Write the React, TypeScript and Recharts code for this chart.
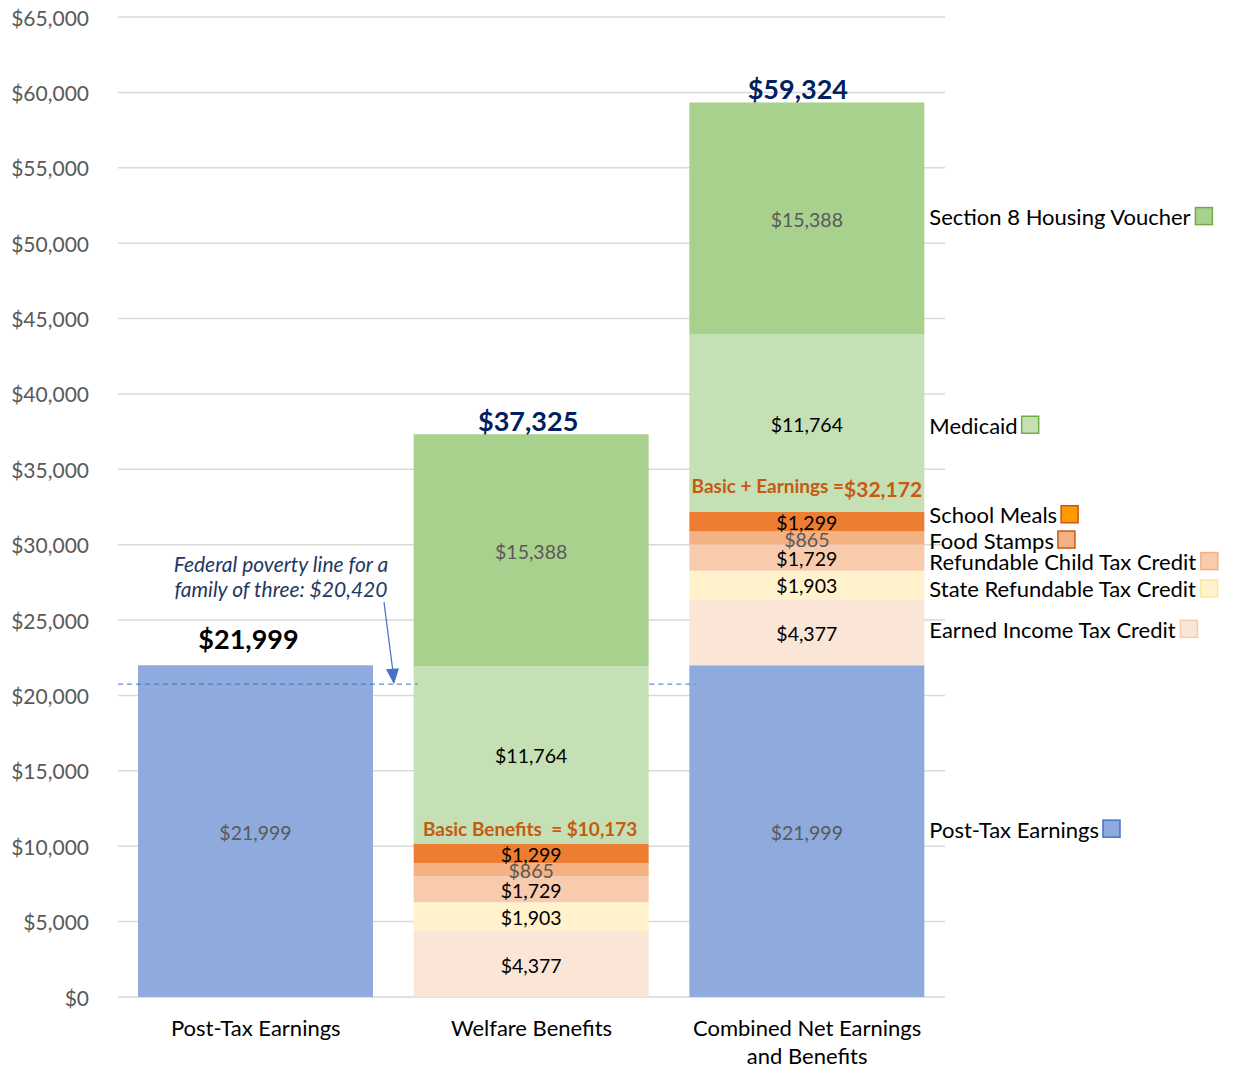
import React from 'react';
import { BarChart, Bar, XAxis, YAxis, CartesianGrid, LabelList, ReferenceLine } from 'recharts';

// categories on the x axis
const categories = ['Post-Tax Earnings', 'Welfare Benefits', 'Combined Net Earnings and Benefits'];

// stacked series values, bottom to top
const postTaxEarnings = [21999, 0, 21999];
const earnedIncomeTaxCredit = [0, 4377, 4377];
const stateRefundableTaxCredit = [0, 1903, 1903];
const refundableChildTaxCredit = [0, 1729, 1729];
const foodStamps = [0, 865, 865];
const schoolMeals = [0, 1299, 1299];
const medicaid = [0, 11764, 11764];
const section8Housing = [0, 15388, 15388];

const yTicks = [0, 5000, 10000, 15000, 20000, 25000, 30000, 35000, 40000, 45000, 50000, 55000, 60000, 65000];
const povertyLine = 20420;

const FONT = 'Lato, Carlito, sans-serif';
const LEGEND_SIZE = 22;
const PLOT_LEFT = 118;
const PLOT_RIGHT = 945;

const series = [
  { key: 'postTax', name: 'Post-Tax Earnings', values: postTaxEarnings, color: '#8FAADC', labelColor: '#595959', legendFill: '#8FAADC', legendStroke: '#4472C4', legendDy: -2 },
  { key: 'eitc', name: 'Earned Income Tax Credit', values: earnedIncomeTaxCredit, color: '#FBE5D6', labelColor: '#000', legendFill: '#FBE5D6', legendStroke: '#F8CBAD', legendDy: -3 },
  { key: 'state', name: 'State Refundable Tax Credit', values: stateRefundableTaxCredit, color: '#FFF2CC', labelColor: '#000', legendFill: '#FFF2CC', legendStroke: '#FFE699', legendDy: 4 },
  { key: 'child', name: 'Refundable Child Tax Credit', values: refundableChildTaxCredit, color: '#F8CBAD', labelColor: '#000', legendFill: '#F8CBAD', legendStroke: '#F4B183', legendDy: 4 },
  { key: 'food', name: 'Food Stamps', values: foodStamps, color: '#F4B183', labelColor: '#595959', legendFill: '#F4B183', legendStroke: '#C55A11', legendDy: 2 },
  { key: 'school', name: 'School Meals', values: schoolMeals, color: '#ED7D31', labelColor: '#000', legendFill: '#FF9900', legendStroke: '#C55A11', legendDy: -7 },
  { key: 'medicaid', name: 'Medicaid', values: medicaid, color: '#C5E0B4', labelColor: '#000', legendFill: '#C5E0B4', legendStroke: '#70AD47', legendDy: 2 },
  { key: 'section8', name: 'Section 8 Housing Voucher', values: section8Housing, color: '#A9D18E', labelColor: '#595959', legendFill: '#A9D18E', legendStroke: '#70AD47', legendDy: -2 },
];

const data = categories.map((category, i) => {
  const row: any = { category };
  series.forEach((s) => { row[s.key] = s.values[i]; });
  return row;
});

const totals = categories.map((_, i) => series.reduce((acc, s) => acc + s.values[i], 0));
const basicBenefits = categories.map((_, i) =>
  earnedIncomeTaxCredit[i] + stateRefundableTaxCredit[i] + refundableChildTaxCredit[i] + foodStamps[i] + schoolMeals[i]);

const fmt = (v: number) => '$' + v.toLocaleString('en-US');

let ctx: CanvasRenderingContext2D | null = null;
const measure = (t: string, font: string) => {
  if (!ctx) ctx = document.createElement('canvas').getContext('2d');
  if (!ctx) return t.length * 10;
  ctx.font = font;
  return ctx.measureText(t).width;
};

const box = (props: any) => {
  const vb = props.viewBox && props.viewBox.width !== undefined ? props.viewBox : props;
  return { x: Number(vb.x), y: Number(vb.y), width: Number(vb.width), height: Number(vb.height) };
};

// zero-height segments are skipped by LabelList, so find the category from the bar itself
const catIndex = (props: any) => {
  const cat = props.payload && props.payload.category;
  if (cat) return categories.indexOf(cat);
  const { x, width } = box(props);
  const band = (PLOT_RIGHT - PLOT_LEFT) / categories.length;
  return Math.floor((x + width / 2 - PLOT_LEFT) / band);
};

// value inside each segment
const segmentLabel = (color: string) => (props: any) => {
  const { value } = props;
  if (!value) return null;
  const { x, y, width, height } = box(props);
  return (
    <text x={x + width / 2} y={y + height / 2 + 1} textAnchor="middle" dominantBaseline="central"
      fontSize={19.5} fontFamily={FONT} fill={color}>
      {fmt(Number(value))}
    </text>
  );
};

// legend text + swatch to the right of the combined bar
const legendLabel = (s: typeof series[number]) => (props: any) => {
  if (catIndex(props) !== 2) return null;
  const { x, y, width, height } = box(props);
  const tx = x + width + 5;
  const cy = y + height / 2 + s.legendDy;
  const w = measure(s.name, `${LEGEND_SIZE}px ${FONT}`);
  return (
    <g>
      <text x={tx} y={cy} dominantBaseline="central" fontSize={LEGEND_SIZE} fontFamily={FONT} fill="#000">{s.name}</text>
      <rect x={tx + w + 4} y={cy - 9} width={17} height={17} fill={s.legendFill} stroke={s.legendStroke} strokeWidth={1.5} />
    </g>
  );
};

const totalLabel = (props: any) => {
  const i = catIndex(props);
  const { x, y, width } = box(props);
  const isFirst = i === 0;
  const dx = [-7, -3, -9][i];
  const dy = isFirst ? -27 : -14;
  return (
    <text x={x + width / 2 + dx} y={y + dy} textAnchor="middle" dominantBaseline="central"
      fontSize={27} fontWeight="bold" fontFamily={FONT} fill={isFirst ? '#000' : '#002060'}>
      {fmt(totals[i])}
    </text>
  );
};

const basicLabel = (props: any) => {
  const i = catIndex(props);
  if (i !== 1 && i !== 2) return null;
  const { x, y, width } = box(props);
  const cx = x + width / 2;
  if (i === 1) {
    return (
      <text x={cx - 1} y={y - 15} textAnchor="middle" dominantBaseline="central" fontSize={19}
        fontWeight="bold" fontFamily={FONT} fill="#C55A11" style={{ whiteSpace: 'pre' }}>
        {`Basic Benefits  = ${fmt(basicBenefits[i])}`}
      </text>
    );
  }
  return (
    <text x={cx} y={y - 26} textAnchor="middle" dominantBaseline="central" fontSize={19}
      fontWeight="bold" fontFamily={FONT} fill="#C55A11">
      {'Basic + Earnings ='}
      <tspan fontSize={21} dy={2}>{fmt(basicBenefits[i] + postTaxEarnings[i])}</tspan>
    </text>
  );
};

const XTick = (props: any) => {
  const { x, y, payload } = props;
  const lines = payload.value === categories[2] ? ['Combined Net Earnings', 'and Benefits'] : [payload.value];
  return (
    <g>
      {lines.map((l: string, k: number) => (
        <text key={k} x={x} y={y + 22 + k * 28} textAnchor="middle" dominantBaseline="central"
          fontSize={22} fontFamily={FONT} fill="#000">{l}</text>
      ))}
    </g>
  );
};

const YTick = (props: any) => {
  const { x, y, payload } = props;
  return (
    <text x={x} y={y} textAnchor="end" dominantBaseline="central" fontSize={21} fontFamily={FONT} fill="#595959">
      {fmt(payload.value)}
    </text>
  );
};

// dashed poverty line with the annotation and arrow
const PovertyShape = (p: any) => {
  const x1 = Number(p.x1);
  const x2 = Number(p.x2);
  const y = Number(p.y1) - 5;
  const band = (x2 - x1) / 3;
  const ax = x1 + 266;
  const tipX = x1 + 276;
  return (
    <g>
      <line x1={x1} x2={x1 + band + 24} y1={y} y2={y} stroke="#4472C4" strokeWidth={1} strokeDasharray="5 4" />
      <line x1={x1 + 2 * band - 20} x2={x1 + 2 * band + 26} y1={y} y2={y} stroke="#4472C4" strokeWidth={1} strokeDasharray="5 4" />
      <line x1={ax} y1={y - 82} x2={tipX - 1} y2={y - 12} stroke="#4472C4" strokeWidth={1.2} />
      <polygon points={`${tipX},${y} ${tipX - 8},${y - 15} ${tipX + 5},${y - 16}`} fill="#4472C4" />
      <text x={x1 + 163} y={y - 121} textAnchor="middle" dominantBaseline="central" fontSize={21}
        fontStyle="italic" fontFamily={FONT} fill="#1F3864">Federal poverty line for a</text>
      <text x={x1 + 163} y={y - 96} textAnchor="middle" dominantBaseline="central" fontSize={21}
        fontStyle="italic" fontFamily={FONT} fill="#1F3864">{`family of three: ${fmt(povertyLine)}`}</text>
    </g>
  );
};

export default function App() {
  return (
    <div style={{ position: 'absolute', left: 0, top: 0, background: '#fff', fontFamily: FONT }}>
      <BarChart width={1236} height={1069} data={data} margin={{ top: 17, right: 1236 - PLOT_RIGHT, bottom: 12, left: 0 }}>
        <CartesianGrid vertical={false} stroke="#D9D9D9" strokeWidth={1.5} />
        <XAxis dataKey="category" axisLine={false} tickLine={false} height={60} tick={<XTick />} interval={0} />
        <YAxis width={PLOT_LEFT} domain={[0, 65000]} ticks={yTicks} axisLine={false} tickLine={false}
          tickSize={0} tickMargin={29} tick={<YTick />} interval={0} />
        {series.map((s) => (
          <Bar key={s.key} dataKey={s.key} name={s.name} stackId="a" fill={s.color} barSize={235} isAnimationActive={false}>
            <LabelList dataKey={s.key} content={segmentLabel(s.labelColor)} />
            <LabelList dataKey={s.key} content={legendLabel(s)} />
            {s.key === 'postTax' && <LabelList dataKey={s.key} content={(p: any) => (catIndex(p) === 0 ? totalLabel(p) : null)} />}
            {s.key === 'section8' && <LabelList dataKey={s.key} content={totalLabel} />}
            {s.key === 'school' && <LabelList dataKey={s.key} content={basicLabel} />}
          </Bar>
        ))}
        <ReferenceLine y={povertyLine} shape={PovertyShape} />
      </BarChart>
    </div>
  );
}
